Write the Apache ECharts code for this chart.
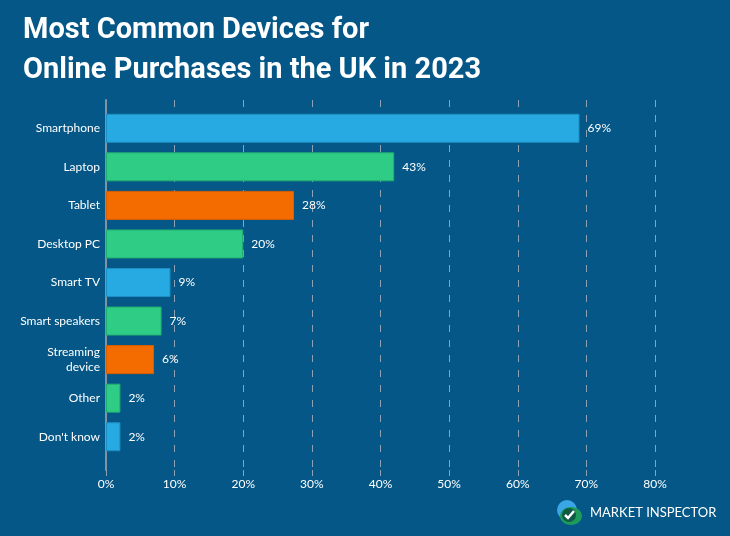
<!DOCTYPE html>
<html>
<head>
<meta charset="utf-8">
<script src="https://cdn.jsdelivr.net/npm/echarts@6/dist/echarts.min.js"></script>
<style>
html,body{margin:0;padding:0;background:#045786;}
#c{width:730px;height:536px;}
</style>
</head>
<body>
<div id="c"></div>
<script>
var titleText = 'Most Common Devices for\nOnline Purchases in the UK in 2023';
var categories = ['Smartphone', 'Laptop', 'Tablet', 'Desktop PC', 'Smart TV', 'Smart speakers', 'Streaming\ndevice', 'Other', "Don't know"];
var values = [69, 42, 27.4, 20, 9.4, 8.1, 7, 2.1, 2.1];
var valueLabels = ['69%', '43%', '28%', '20%', '9%', '7%', '6%', '2%', '2%'];
var barColors = ['#27a9e1', '#2ecc85', '#f46b00', '#2ecc85', '#27a9e1', '#2ecc85', '#f46b00', '#2ecc85', '#27a9e1'];
var borderColors = ['#1d8fc4', '#23ad70', '#d95f00', '#23ad70', '#1d8fc4', '#23ad70', '#d95f00', '#23ad70', '#1d8fc4'];
var xTicks = [0, 10, 20, 30, 40, 50, 60, 70, 80];
var brand = 'MARKET INSPECTOR';

var chart = echarts.init(document.getElementById('c'), null, {renderer: 'canvas'});
var data = values.map(function (v, i) {
  return {value: v, itemStyle: {color: barColors[i], borderColor: borderColors[i], borderWidth: 1}};
});
chart.setOption({
  backgroundColor: '#045786',
  animation: false,
  title: {
    text: titleText,
    left: 18, top: 6,
    textStyle: {color: '#ffffff', fontFamily: 'Roboto', fontWeight: 'bold', fontSize: 29, lineHeight: 40}
  },
  grid: [
    {left: 106, right: 75, top: 100, bottom: 66, containLabel: false},
    {left: 106, right: 75, top: 109, bottom: 80, containLabel: false}
  ],
  xAxis: [
    {
      gridIndex: 0, type: 'value', min: xTicks[0], max: xTicks[xTicks.length - 1], interval: 10,
      axisLine: {show: false},
      axisTick: {show: true, length: 6, lineStyle: {color: '#8da3b5', width: 1}},
      axisLabel: {color: '#ffffff', fontFamily: 'Lato', fontSize: 12, margin: 8, formatter: '{value}%'},
      splitLine: {show: true, lineStyle: {color: '#8da3b5', width: 1, type: [7, 8]}}
    },
    {
      gridIndex: 1, type: 'value', min: xTicks[0], max: xTicks[xTicks.length - 1], interval: 10,
      show: false
    }
  ],
  yAxis: [
    {
      gridIndex: 0, type: 'value', min: 0, max: 1,
      axisLine: {show: true, lineStyle: {color: '#7f93a6', width: 2}},
      axisTick: {show: false}, axisLabel: {show: false}, splitLine: {show: false}
    },
    {
      gridIndex: 1, type: 'category', data: categories, inverse: true,
      axisLine: {show: false}, axisTick: {show: false}, splitLine: {show: false},
      axisLabel: {color: '#ffffff', fontFamily: 'Lato', fontSize: 12, margin: 6, lineHeight: 15, align: 'right'}
    }
  ],
  series: [{
    type: 'bar', xAxisIndex: 1, yAxisIndex: 1,
    data: data, barWidth: 29,
    label: {
      show: true, position: 'right', distance: 8, color: '#ffffff', fontFamily: 'Lato', fontSize: 12,
      formatter: function (p) { return valueLabels[p.dataIndex]; }
    }
  }],
  graphic: [
    {type: 'circle', shape: {cx: 567, cy: 510, r: 10}, style: {fill: '#3aa6e6'}},
    {type: 'ellipse', shape: {cx: 571, cy: 516, rx: 11, ry: 9}, style: {fill: '#1e9a5a'}},
    {type: 'circle', shape: {cx: 569, cy: 515, r: 7}, style: {fill: '#0e5a45'}},
    {type: 'polyline', shape: {points: [[565, 515], [568, 518], [574, 511]]}, style: {stroke: '#ffffff', lineWidth: 2.5, fill: null}},
    {type: 'text', left: 590, top: 506, style: {text: brand, fill: '#ffffff', font: '13px Lato'}}
  ]
});
</script>
</body>
</html>
